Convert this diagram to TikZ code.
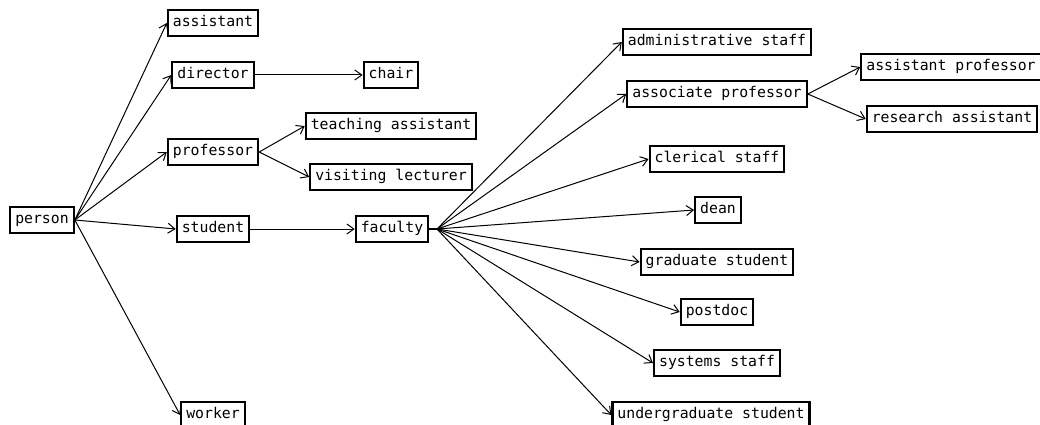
\documentclass[tikz,border=0pt]{standalone}
\usepackage{fontspec}
\setmonofont{DejaVu Sans Mono}
\usetikzlibrary{arrows.meta}
\begin{document}
\begin{tikzpicture}[x=1pt,y=-1pt,%%
  boxStyle/.style={draw,line width=2.2pt,inner xsep=5pt,inner ysep=0pt,
    minimum height=26pt,text height=11pt,text depth=3.5pt,
    font=\ttfamily\fontsize{14.8}{16}\selectfont},%%
  arrowStyle/.style={-{Straight Barb[length=7pt,width=10pt]},line width=1pt},%%
  stubStyle/.style={-,line width=2pt}
]
\useasboundingbox (0,0) rectangle (1040,425);
\clip (0,0) rectangle (1040,425);
%%
%%
\pgfmathsetmacro{\xA}{42}
\pgfmathsetmacro{\xB}{213}
\pgfmathsetmacro{\xC}{391}
\pgfmathsetmacro{\xD}{717}
\pgfmathsetmacro{\xE}{951}
%%
%%
%% First level.
\node (person) at (\xA,220) [boxStyle] {person};
\node (assistant) at (\xB,23) [boxStyle] {assistant};
\node (director) at (\xB,75) [boxStyle] {director};
\node (professor) at (\xB,152) [boxStyle] {professor};
\node (student) at (\xB,229) [boxStyle] {student};
\node (worker) at (\xB,415) [boxStyle] {worker};
%% Second level.
\node (chair) at (\xC,75) [boxStyle] {chair};
\node (teachingAssistant) at (\xC,126) [boxStyle] {teaching assistant};
\node (visitingLecturer) at (\xC,177) [boxStyle] {visiting lecturer};
\node (faculty) at (\xC+1,229) [boxStyle] {faculty};
\coordinate (facultyHub) at (437,229);
%% Third level.
\node (adminStaff) at (\xD,42) [boxStyle] {administrative staff};
\node (associateProfessor) at (\xD,94) [boxStyle] {associate professor};
\node (clericalStaff) at (\xD,159) [boxStyle] {clerical staff};
\node (dean) at (\xD+1,210) [boxStyle] {dean};
\node (graduateStudent) at (\xD,262) [boxStyle] {graduate student};
\node (postdoc) at (\xD,312) [boxStyle] {postdoc};
\node (systemsStaff) at (\xD,363) [boxStyle] {systems staff};
\node (undergraduateStudent) at (\xD-6,415) [boxStyle] {undergraduate student};
%% Fourth level.
\node (assistantProfessor) at (\xE,67) [boxStyle] {assistant professor};
\node (researchAssistant) at (\xE+1,119) [boxStyle] {research assistant};
%%
%%
%% Edges out of person.
\draw[arrowStyle] (person.east) -- (assistant.west);
\draw[arrowStyle] (person.east) -- (director.west);
\draw[arrowStyle] (person.east) -- (professor.west);
\draw[arrowStyle] (person.east) -- (student.west);
\draw[arrowStyle] (person.east) -- (worker.west);
%% Edges of the second level.
\draw[arrowStyle] (director.east) -- (chair.west);
\draw[arrowStyle] (professor.east) -- (teachingAssistant.west);
\draw[arrowStyle] (professor.east) -- (visitingLecturer.west);
\draw[arrowStyle] (student.east) -- (faculty.west);
%% Edges out of faculty.
\draw[stubStyle] (faculty.east) -- (facultyHub);
\draw[arrowStyle] (facultyHub) -- (adminStaff.west);
\draw[arrowStyle] (facultyHub) -- (associateProfessor.west);
\draw[arrowStyle] (facultyHub) -- (clericalStaff.west);
\draw[arrowStyle] (facultyHub) -- (dean.west);
\draw[arrowStyle] (facultyHub) -- (graduateStudent.west);
\draw[arrowStyle] (facultyHub) -- (postdoc.west);
\draw[arrowStyle] (facultyHub) -- (systemsStaff.west);
\draw[arrowStyle] (facultyHub) -- (undergraduateStudent.west);
%% Edges out of associate professor.
\draw[arrowStyle] (associateProfessor.east) -- (assistantProfessor.west);
\draw[arrowStyle] (associateProfessor.east) -- (researchAssistant.west);
\end{tikzpicture}
\end{document}
